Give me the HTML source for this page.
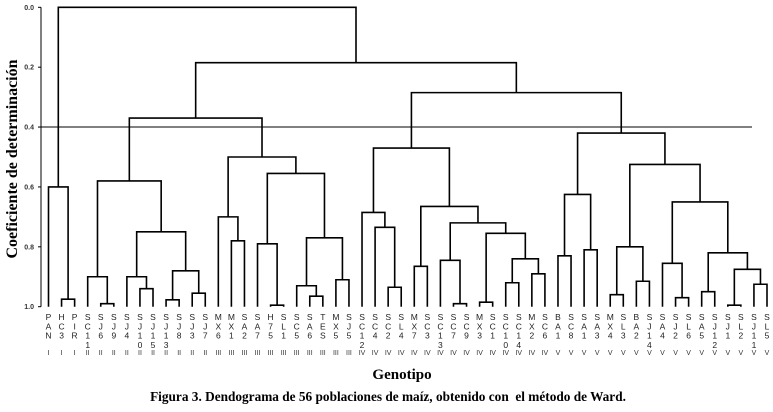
<!DOCTYPE html>
<html><head><meta charset="utf-8"><style>
body{margin:0;background:#fff;}
svg{display:block;}
</style></head><body>
<svg id="chart" width="773" height="412" xmlns="http://www.w3.org/2000/svg">
<text x="402" y="379" text-anchor="middle" font-family="Liberation Serif, serif" font-weight="bold" font-size="15">Genotipo</text>
<text x="388" y="401" text-anchor="middle" font-family="Liberation Serif, serif" font-weight="bold" font-size="13.3">Figura 3. Dendograma de 56 poblaciones de maíz, obtenido con&#160; el método de Ward.</text>
<text transform="translate(17,159) rotate(-90)" text-anchor="middle" font-family="Liberation Serif, serif" font-weight="bold" font-size="16">Coeficiente de determinación</text>
</svg>
<script>
const leafLabels=["PAN","HC3","PIR","SC11","SJ6","SJ9","SJ4","SJ10","SJ15","SJ13","SJ8","SJ3","SJ7","MX6","MX1","SA2","SA7","H75","SL1","SC5","SA6","TES","MX5","SJ5","SC12","SC4","SC2","SL4","MX7","SC3","SC13","SC7","SC9","MX3","SC1","SC10","SC14","MX2","SC6","BA1","SC8","SA1","SA3","MX4","SL3","BA2","SJ14","SA4","SJ2","SL6","SA5","SJ12","SJ1","SL2","SJ11","SL5"];
const leafGroups=["I","I","I","II","II","II","II","II","II","II","II","II","II","III","III","III","III","III","III","III","III","III","III","III","IV","IV","IV","IV","IV","IV","IV","IV","IV","IV","IV","IV","IV","IV","IV","V","V","V","V","V","V","V","V","V","V","V","V","V","V","V","V","V"];
const mergeLeft=[1,0,4,3,7,6,9,11,62,61,59,14,13,17,16,20,19,22,72,70,68,66,26,25,24,28,31,30,33,35,37,85,84,83,81,80,39,41,92,43,45,95,48,47,50,52,54,101,100,99,97,94,91,77,57];
const mergeRight=[2,56,5,58,8,60,10,12,63,64,65,15,67,18,69,21,71,23,73,74,75,76,27,78,79,29,32,82,34,36,38,86,87,88,89,90,40,42,93,44,46,96,49,98,51,53,55,102,103,104,105,106,107,108,109];
const mergeHeight=[0.975,0.6,0.99,0.9,0.94,0.9,0.977,0.955,0.88,0.75,0.58,0.78,0.7,0.995,0.79,0.965,0.93,0.91,0.77,0.555,0.5,0.37,0.935,0.735,0.685,0.865,0.99,0.845,0.985,0.92,0.89,0.84,0.755,0.72,0.665,0.47,0.83,0.81,0.625,0.96,0.915,0.8,0.97,0.855,0.95,0.995,0.925,0.875,0.82,0.65,0.525,0.42,0.285,0.185,0.0];
const yTicks=[0,0.2,0.4,0.6,0.8,1.0];
const cutHeight=0.4;

const svg=document.getElementById('chart');
const NS='http://www.w3.org/2000/svg';
const y0=7.3,y1=306.7,x0=48.5,x1=767;
const yScale=v=>y0+(y1-y0)*v;
const xLeaf=i=>x0+(x1-x0)*i/(leafLabels.length-1);
function mk(tag,attrs){const e=document.createElementNS(NS,tag);for(const k in attrs)e.setAttribute(k,attrs[k]);svg.appendChild(e);return e;}

const ax=mk('line',{x1:41,y1:y0,x2:41,y2:y1,stroke:'#000','stroke-width':1});


yTicks.forEach(t=>{
  const tk=mk('line',{x1:38,y1:yScale(t),x2:41,y2:yScale(t),stroke:'#000','stroke-width':1});
  
  
  const tl=mk('text',{x:34,y:yScale(t)+2.5,'text-anchor':'end','font-family':'Liberation Sans, sans-serif','font-size':7,'font-weight':'bold',fill:'#333'});
  tl.textContent=t.toFixed(1);
  
  
});
const cut=mk('line',{x1:38,y1:yScale(cutHeight),x2:752,y2:yScale(cutHeight),stroke:'#000','stroke-width':1});



const nx=[],ny=[];
leafLabels.forEach((l,i)=>{nx[i]=xLeaf(i);ny[i]=y1;});
mergeLeft.forEach((a,k)=>{
  const b=mergeRight[k],id=leafLabels.length+k,h=yScale(mergeHeight[k]);
  nx[id]=(nx[a]+nx[b])/2;ny[id]=h;
  const p=mk('path',{d:`M${nx[a]},${ny[a]}V${h}H${nx[b]}V${ny[b]}`,fill:'none',stroke:'#000','stroke-width':1.6});
  
  
});

leafLabels.forEach((l,i)=>{
  const g=document.createElementNS(NS,'g');svg.appendChild(g);
  
  
  const chars=[...l];
  chars.forEach((c,j)=>{
    const t=document.createElementNS(NS,'text');
    t.setAttribute('x',xLeaf(i));t.setAttribute('y',320+j*9.3);
    t.setAttribute('text-anchor','middle');t.setAttribute('font-family','Liberation Sans, sans-serif');
    t.setAttribute('font-size','8.5');t.setAttribute('fill','#222');
    t.textContent=c;g.appendChild(t);
  });
  const gr=mk('text',{x:xLeaf(i),y:355,'text-anchor':'middle','font-family':'Liberation Sans, sans-serif','font-size':7,fill:'#333'});
  gr.textContent=leafGroups[i];
  
  
});
</script>
</body></html>
